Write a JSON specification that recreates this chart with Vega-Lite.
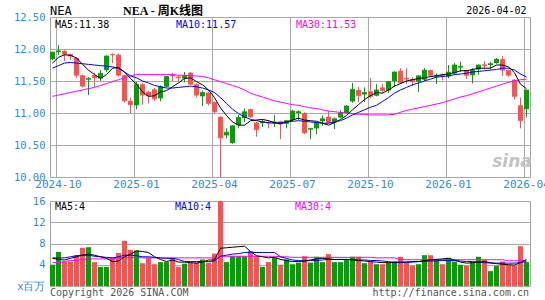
{
"$schema": "https://vega.github.io/schema/vega-lite/v6.json",
"autosize": {"type": "none"},
"padding": {"left": 50, "top": 17, "right": 495, "bottom": 283},
"background": "#ffffff",
"bounds": "flush",
"spacing": 24,
"config": {
  "font": "DejaVu Sans Mono",
  "view": {"stroke": "#a0a0a0", "strokeWidth": 1},
  "axis": {"ticks": false, "tickSize": 0, "domain": false, "labelFont": "DejaVu Sans Mono", "labelColor": "#2a8cdc", "gridColor": "#a8a8a8", "gridWidth": 1, "gridOpacity": 1, "labelOverlap": false, "labelBound": false, "labelFlush": false}
},
"datasets": {
"weekly": [
{"date":"2024-09-27","open":11.84,"high":11.96,"low":11.83,"close":11.95,"volume":4.0,"ma5":11.78,"ma10":11.70,"ma30":11.26,"vma5":5.2,"vma10":5.3,"vma30":4.4},
{"date":"2024-10-04","open":11.95,"high":12.06,"low":11.91,"close":11.97,"volume":6.4,"ma5":11.87,"ma10":11.74,"ma30":11.28,"vma5":5.0,"vma10":5.3,"vma30":4.4},
{"date":"2024-10-11","open":11.97,"high":11.98,"low":11.81,"close":11.92,"volume":4.6,"ma5":11.91,"ma10":11.78,"ma30":11.30,"vma5":4.9,"vma10":5.3,"vma30":4.6},
{"date":"2024-10-18","open":11.92,"high":11.93,"low":11.83,"close":11.89,"volume":4.6,"ma5":11.90,"ma10":11.79,"ma30":11.32,"vma5":5.2,"vma10":5.5,"vma30":4.8},
{"date":"2024-10-25","open":11.86,"high":11.87,"low":11.55,"close":11.59,"volume":5.8,"ma5":11.86,"ma10":11.78,"ma30":11.34,"vma5":5.5,"vma10":5.7,"vma30":4.8},
{"date":"2024-11-01","open":11.59,"high":11.60,"low":11.40,"close":11.42,"volume":7.2,"ma5":11.76,"ma10":11.77,"ma30":11.36,"vma5":5.8,"vma10":5.8,"vma30":5.0},
{"date":"2024-11-08","open":11.52,"high":11.56,"low":11.28,"close":11.54,"volume":7.3,"ma5":11.67,"ma10":11.76,"ma30":11.38,"vma5":6.0,"vma10":5.8,"vma30":5.1},
{"date":"2024-11-15","open":11.59,"high":11.63,"low":11.41,"close":11.55,"volume":4.5,"ma5":11.60,"ma10":11.75,"ma30":11.40,"vma5":5.8,"vma10":5.6,"vma30":5.1},
{"date":"2024-11-22","open":11.54,"high":11.67,"low":11.50,"close":11.62,"volume":3.6,"ma5":11.54,"ma10":11.74,"ma30":11.43,"vma5":5.5,"vma10":5.5,"vma30":5.1},
{"date":"2024-11-29","open":11.67,"high":11.90,"low":11.64,"close":11.89,"volume":3.6,"ma5":11.60,"ma10":11.73,"ma30":11.46,"vma5":5.2,"vma10":5.4,"vma30":5.1},
{"date":"2024-12-06","open":11.92,"high":11.93,"low":11.78,"close":11.91,"volume":5.3,"ma5":11.70,"ma10":11.72,"ma30":11.49,"vma5":4.6,"vma10":5.3,"vma30":5.1},
{"date":"2024-12-13","open":11.91,"high":11.93,"low":11.57,"close":11.59,"volume":6.2,"ma5":11.71,"ma10":11.70,"ma30":11.52,"vma5":4.7,"vma10":5.5,"vma30":5.3},
{"date":"2024-12-20","open":11.59,"high":11.60,"low":11.16,"close":11.19,"volume":8.5,"ma5":11.64,"ma10":11.64,"ma30":11.55,"vma5":5.5,"vma10":5.8,"vma30":5.4},
{"date":"2024-12-27","open":11.19,"high":11.24,"low":11.00,"close":11.13,"volume":6.8,"ma5":11.54,"ma10":11.58,"ma30":11.58,"vma5":6.0,"vma10":5.8,"vma30":5.4},
{"date":"2025-01-03","open":11.12,"high":11.49,"low":11.06,"close":11.45,"volume":6.7,"ma5":11.45,"ma10":11.55,"ma30":11.60,"vma5":6.6,"vma10":5.7,"vma30":5.4},
{"date":"2025-01-10","open":11.45,"high":11.47,"low":11.13,"close":11.28,"volume":4.3,"ma5":11.33,"ma10":11.50,"ma30":11.60,"vma5":6.5,"vma10":5.5,"vma30":5.3},
{"date":"2025-01-17","open":11.33,"high":11.35,"low":11.15,"close":11.27,"volume":5.3,"ma5":11.26,"ma10":11.47,"ma30":11.60,"vma5":6.3,"vma10":5.5,"vma30":5.3},
{"date":"2025-01-24","open":11.37,"high":11.39,"low":11.19,"close":11.22,"volume":4.1,"ma5":11.27,"ma10":11.43,"ma30":11.60,"vma5":5.5,"vma10":5.4,"vma30":5.3},
{"date":"2025-01-31","open":11.23,"high":11.43,"low":11.18,"close":11.41,"volume":4.5,"ma5":11.33,"ma10":11.41,"ma30":11.60,"vma5":5.0,"vma10":5.3,"vma30":5.3},
{"date":"2025-02-07","open":11.41,"high":11.58,"low":11.40,"close":11.57,"volume":4.5,"ma5":11.35,"ma10":11.39,"ma30":11.60,"vma5":4.6,"vma10":5.2,"vma30":5.3},
{"date":"2025-02-14","open":11.60,"high":11.63,"low":11.50,"close":11.58,"volume":5.3,"ma5":11.41,"ma10":11.39,"ma30":11.60,"vma5":4.9,"vma10":5.2,"vma30":5.3},
{"date":"2025-02-21","open":11.57,"high":11.59,"low":11.49,"close":11.55,"volume":3.6,"ma5":11.47,"ma10":11.40,"ma30":11.59,"vma5":4.5,"vma10":5.0,"vma30":5.3},
{"date":"2025-02-28","open":11.54,"high":11.64,"low":11.48,"close":11.58,"volume":4.2,"ma5":11.54,"ma10":11.41,"ma30":11.59,"vma5":4.5,"vma10":4.6,"vma30":5.3},
{"date":"2025-03-07","open":11.63,"high":11.64,"low":11.44,"close":11.45,"volume":4.4,"ma5":11.55,"ma10":11.42,"ma30":11.58,"vma5":4.4,"vma10":4.6,"vma30":5.3},
{"date":"2025-03-14","open":11.45,"high":11.46,"low":11.24,"close":11.28,"volume":4.4,"ma5":11.49,"ma10":11.41,"ma30":11.58,"vma5":4.3,"vma10":4.6,"vma30":5.3},
{"date":"2025-03-21","open":11.26,"high":11.35,"low":11.11,"close":11.32,"volume":5.0,"ma5":11.44,"ma10":11.39,"ma30":11.57,"vma5":4.5,"vma10":4.6,"vma30":5.3},
{"date":"2025-03-28","open":11.32,"high":11.33,"low":11.12,"close":11.15,"volume":4.4,"ma5":11.36,"ma10":11.36,"ma30":11.55,"vma5":4.9,"vma10":4.6,"vma30":5.3},
{"date":"2025-04-04","open":11.17,"high":11.18,"low":10.99,"close":11.02,"volume":6.1,"ma5":11.24,"ma10":11.32,"ma30":11.52,"vma5":4.9,"vma10":4.7,"vma30":5.3},
{"date":"2025-04-11","open":10.94,"high":10.95,"low":9.95,"close":10.61,"volume":16,"ma5":11.08,"ma10":11.24,"ma30":11.49,"vma5":7.1,"vma10":5.6,"vma30":5.6},
{"date":"2025-04-17","open":10.65,"high":10.76,"low":10.60,"close":10.70,"volume":4.5,"ma5":10.96,"ma10":11.15,"ma30":11.46,"vma5":7.2,"vma10":5.8,"vma30":5.6},
{"date":"2025-04-25","open":10.53,"high":10.81,"low":10.52,"close":10.80,"volume":5.6,"ma5":10.86,"ma10":11.06,"ma30":11.43,"vma5":7.3,"vma10":6.0,"vma30":5.6},
{"date":"2025-05-02","open":10.81,"high":10.97,"low":10.76,"close":10.93,"volume":5.6,"ma5":10.81,"ma10":10.99,"ma30":11.40,"vma5":7.4,"vma10":6.1,"vma30":5.6},
{"date":"2025-05-09","open":10.92,"high":11.07,"low":10.86,"close":11.02,"volume":5.6,"ma5":10.81,"ma10":10.94,"ma30":11.36,"vma5":7.5,"vma10":6.3,"vma30":5.6},
{"date":"2025-05-16","open":11.06,"high":11.07,"low":10.92,"close":10.94,"volume":6.6,"ma5":10.88,"ma10":10.90,"ma30":11.31,"vma5":6.5,"vma10":6.3,"vma30":5.6},
{"date":"2025-05-23","open":10.85,"high":10.86,"low":10.63,"close":10.74,"volume":5.6,"ma5":10.89,"ma10":10.88,"ma30":11.28,"vma5":5.7,"vma10":6.3,"vma30":5.6},
{"date":"2025-05-30","open":10.84,"high":10.89,"low":10.78,"close":10.87,"volume":3.6,"ma5":10.90,"ma10":10.86,"ma30":11.25,"vma5":5.5,"vma10":6.3,"vma30":5.6},
{"date":"2025-06-06","open":10.86,"high":10.89,"low":10.76,"close":10.84,"volume":4.5,"ma5":10.88,"ma10":10.85,"ma30":11.22,"vma5":5.3,"vma10":6.3,"vma30":5.6},
{"date":"2025-06-13","open":10.84,"high":10.97,"low":10.78,"close":10.86,"volume":5.3,"ma5":10.85,"ma10":10.84,"ma30":11.19,"vma5":5.4,"vma10":6.3,"vma30":5.6},
{"date":"2025-06-20","open":10.87,"high":10.88,"low":10.59,"close":10.83,"volume":4.0,"ma5":10.83,"ma10":10.85,"ma30":11.17,"vma5":5.0,"vma10":5.5,"vma30":5.5},
{"date":"2025-06-27","open":10.83,"high":10.89,"low":10.76,"close":10.88,"volume":5.0,"ma5":10.86,"ma10":10.86,"ma30":11.15,"vma5":4.8,"vma10":5.2,"vma30":5.5},
{"date":"2025-07-03","open":10.89,"high":11.05,"low":10.87,"close":11.03,"volume":4.1,"ma5":10.89,"ma10":10.87,"ma30":11.13,"vma5":4.6,"vma10":4.9,"vma30":5.4},
{"date":"2025-07-11","open":11.00,"high":11.04,"low":10.89,"close":11.02,"volume":4.4,"ma5":10.92,"ma10":10.88,"ma30":11.12,"vma5":4.6,"vma10":4.8,"vma30":5.4},
{"date":"2025-07-18","open":11.00,"high":11.01,"low":10.67,"close":10.69,"volume":5.6,"ma5":10.89,"ma10":10.87,"ma30":11.10,"vma5":4.7,"vma10":4.7,"vma30":5.4},
{"date":"2025-07-25","open":10.74,"high":10.76,"low":10.59,"close":10.76,"volume":4.4,"ma5":10.88,"ma10":10.86,"ma30":11.08,"vma5":4.9,"vma10":4.8,"vma30":5.4},
{"date":"2025-08-01","open":10.76,"high":10.86,"low":10.67,"close":10.84,"volume":5.5,"ma5":10.87,"ma10":10.85,"ma30":11.07,"vma5":5.1,"vma10":4.8,"vma30":5.4},
{"date":"2025-08-08","open":10.87,"high":10.96,"low":10.80,"close":10.91,"volume":4.5,"ma5":10.84,"ma10":10.84,"ma30":11.05,"vma5":5.2,"vma10":4.9,"vma30":5.4},
{"date":"2025-08-15","open":10.94,"high":11.03,"low":10.84,"close":10.85,"volume":6.0,"ma5":10.81,"ma10":10.84,"ma30":11.03,"vma5":5.1,"vma10":5.0,"vma30":5.4},
{"date":"2025-08-22","open":10.85,"high":10.93,"low":10.75,"close":10.91,"volume":4.5,"ma5":10.85,"ma10":10.86,"ma30":11.02,"vma5":5.0,"vma10":5.0,"vma30":5.4},
{"date":"2025-08-29","open":10.93,"high":11.04,"low":10.92,"close":11.00,"volume":4.5,"ma5":10.90,"ma10":10.88,"ma30":11.01,"vma5":5.0,"vma10":5.0,"vma30":5.4},
{"date":"2025-09-05","open":11.00,"high":11.12,"low":10.99,"close":11.11,"volume":5.1,"ma5":10.96,"ma10":10.92,"ma30":11.00,"vma5":5.0,"vma10":5.0,"vma30":5.4},
{"date":"2025-09-12","open":11.18,"high":11.47,"low":11.16,"close":11.37,"volume":5.5,"ma5":11.05,"ma10":10.97,"ma30":10.99,"vma5":4.9,"vma10":5.0,"vma30":5.4},
{"date":"2025-09-19","open":11.36,"high":11.41,"low":11.17,"close":11.27,"volume":5.5,"ma5":11.13,"ma10":11.01,"ma30":10.98,"vma5":4.8,"vma10":4.9,"vma30":5.4},
{"date":"2025-09-26","open":11.29,"high":11.40,"low":11.17,"close":11.32,"volume":4.3,"ma5":11.21,"ma10":11.05,"ma30":10.98,"vma5":4.7,"vma10":4.9,"vma30":5.4},
{"date":"2025-10-03","open":11.34,"high":11.55,"low":11.23,"close":11.26,"volume":4.6,"ma5":11.27,"ma10":11.09,"ma30":10.97,"vma5":4.6,"vma10":4.8,"vma30":5.4},
{"date":"2025-10-10","open":11.27,"high":11.45,"low":11.26,"close":11.36,"volume":4.1,"ma5":11.32,"ma10":11.12,"ma30":10.97,"vma5":4.5,"vma10":4.8,"vma30":5.3},
{"date":"2025-10-17","open":11.40,"high":11.45,"low":11.31,"close":11.35,"volume":4.1,"ma5":11.31,"ma10":11.18,"ma30":10.97,"vma5":4.4,"vma10":4.7,"vma30":5.3},
{"date":"2025-10-24","open":11.35,"high":11.50,"low":11.31,"close":11.49,"volume":4.4,"ma5":11.36,"ma10":11.24,"ma30":10.97,"vma5":4.4,"vma10":4.6,"vma30":5.3},
{"date":"2025-10-31","open":11.50,"high":11.65,"low":11.41,"close":11.64,"volume":4.6,"ma5":11.42,"ma10":11.31,"ma30":10.98,"vma5":4.5,"vma10":4.4,"vma30":5.3},
{"date":"2025-11-07","open":11.66,"high":11.70,"low":11.45,"close":11.47,"volume":5.5,"ma5":11.46,"ma10":11.36,"ma30":11.01,"vma5":4.5,"vma10":4.4,"vma30":4.95},
{"date":"2025-11-14","open":11.55,"high":11.70,"low":11.45,"close":11.53,"volume":4.5,"ma5":11.50,"ma10":11.40,"ma30":11.04,"vma5":4.5,"vma10":4.5,"vma30":4.95},
{"date":"2025-11-21","open":11.53,"high":11.56,"low":11.42,"close":11.49,"volume":3.8,"ma5":11.52,"ma10":11.44,"ma30":11.06,"vma5":4.6,"vma10":4.5,"vma30":4.95},
{"date":"2025-11-28","open":11.49,"high":11.59,"low":11.33,"close":11.58,"volume":4.1,"ma5":11.54,"ma10":11.47,"ma30":11.08,"vma5":4.6,"vma10":4.6,"vma30":4.95},
{"date":"2025-12-05","open":11.52,"high":11.70,"low":11.50,"close":11.67,"volume":5.8,"ma5":11.55,"ma10":11.50,"ma30":11.10,"vma5":4.8,"vma10":4.6,"vma30":4.95},
{"date":"2025-12-12","open":11.67,"high":11.68,"low":11.56,"close":11.59,"volume":5.8,"ma5":11.57,"ma10":11.53,"ma30":11.12,"vma5":4.9,"vma10":4.7,"vma30":4.95},
{"date":"2025-12-19","open":11.57,"high":11.62,"low":11.45,"close":11.59,"volume":5.1,"ma5":11.58,"ma10":11.56,"ma30":11.14,"vma5":5.0,"vma10":4.7,"vma30":4.95},
{"date":"2025-12-26","open":11.60,"high":11.62,"low":11.51,"close":11.58,"volume":4.1,"ma5":11.60,"ma10":11.57,"ma30":11.16,"vma5":5.1,"vma10":4.8,"vma30":4.95},
{"date":"2026-01-02","open":11.57,"high":11.75,"low":11.54,"close":11.64,"volume":5.3,"ma5":11.61,"ma10":11.58,"ma30":11.19,"vma5":5.2,"vma10":4.8,"vma30":4.95},
{"date":"2026-01-09","open":11.62,"high":11.78,"low":11.60,"close":11.75,"volume":4.6,"ma5":11.63,"ma10":11.60,"ma30":11.22,"vma5":4.9,"vma10":4.8,"vma30":4.95},
{"date":"2026-01-16","open":11.71,"high":11.80,"low":11.64,"close":11.73,"volume":4.0,"ma5":11.66,"ma10":11.61,"ma30":11.25,"vma5":4.5,"vma10":4.7,"vma30":4.95},
{"date":"2026-01-23","open":11.67,"high":11.68,"low":11.53,"close":11.59,"volume":3.8,"ma5":11.66,"ma10":11.62,"ma30":11.27,"vma5":4.3,"vma10":4.6,"vma30":4.95},
{"date":"2026-01-30","open":11.59,"high":11.70,"low":11.46,"close":11.67,"volume":4.5,"ma5":11.68,"ma10":11.64,"ma30":11.30,"vma5":4.4,"vma10":4.6,"vma30":4.95},
{"date":"2026-02-06","open":11.68,"high":11.76,"low":11.60,"close":11.75,"volume":5.5,"ma5":11.70,"ma10":11.65,"ma30":11.33,"vma5":4.5,"vma10":4.5,"vma30":4.95},
{"date":"2026-02-13","open":11.76,"high":11.81,"low":11.68,"close":11.74,"volume":4.9,"ma5":11.70,"ma10":11.66,"ma30":11.36,"vma5":4.6,"vma10":4.4,"vma30":4.95},
{"date":"2026-02-20","open":11.75,"high":11.80,"low":11.68,"close":11.77,"volume":2.8,"ma5":11.70,"ma10":11.67,"ma30":11.39,"vma5":4.4,"vma10":4.3,"vma30":4.95},
{"date":"2026-02-27","open":11.78,"high":11.86,"low":11.77,"close":11.84,"volume":3.8,"ma5":11.75,"ma10":11.68,"ma30":11.42,"vma5":4.2,"vma10":4.3,"vma30":4.95},
{"date":"2026-03-06","open":11.84,"high":11.89,"low":11.58,"close":11.67,"volume":4.6,"ma5":11.75,"ma10":11.70,"ma30":11.45,"vma5":4.1,"vma10":4.3,"vma30":4.95},
{"date":"2026-03-13","open":11.67,"high":11.68,"low":11.57,"close":11.59,"volume":4.0,"ma5":11.72,"ma10":11.70,"ma30":11.48,"vma5":4.0,"vma10":4.3,"vma30":4.75},
{"date":"2026-03-20","open":11.52,"high":11.53,"low":11.21,"close":11.26,"volume":3.8,"ma5":11.63,"ma10":11.67,"ma30":11.50,"vma5":3.95,"vma10":4.3,"vma30":4.75},
{"date":"2026-03-27","open":11.12,"high":11.24,"low":10.76,"close":10.88,"volume":7.5,"ma5":11.45,"ma10":11.61,"ma30":11.52,"vma5":4.4,"vma10":4.4,"vma30":4.75},
{"date":"2026-04-02","open":11.06,"high":11.35,"low":10.93,"close":11.36,"volume":4.5,"ma5":11.38,"ma10":11.56,"ma30":11.53,"vma5":5.0,"vma10":4.6,"vma30":4.75}
]
},
"vconcat": [
{
  "width": 480,
  "height": 160,
  "data": {"name": "weekly"},
  "encoding": {
    "x": {"field": "date", "type": "ordinal",
      "scale": {"paddingInner": 0.1667, "paddingOuter": 0, "align": 0, "round": true},
      "axis": {"values": ["2024-10-04","2025-01-03","2025-04-04","2025-07-03","2025-10-03","2026-01-02","2026-04-02"], "bandPosition": 0, "grid": true, "labelExpr": "slice(datum.value, 0, 7)", "labelAngle": 0, "labelAlign": "center", "labelBaseline": "top", "labelFontSize": 11, "labelPadding": 1, "title": null}}
  },
  "layer": [
    {"mark": {"type": "rule", "clip": true, "strokeWidth": 1},
     "encoding": {
       "y": {"field": "low", "type": "quantitative", "title": null,
         "scale": {"domain": [10, 12.5], "nice": false, "zero": false},
         "axis": {"values": [10, 10.5, 11, 11.5, 12, 12.5], "tickCount": 6, "format": ".2f", "grid": true, "labelOverlap": false, "labelFontSize": 10.5, "labelPadding": 5, "labelBaseline": "middle", "title": null}},
       "y2": {"field": "high"},
       "color": {"condition": {"test": "datum.close >= datum.open", "value": "#00a000"}, "value": "#ff5050"}}},
    {"mark": {"type": "bar", "clip": true},
     "encoding": {
       "y": {"field": "open", "type": "quantitative", "title": null,
         "axis": {"values": [10, 10.5, 11, 11.5, 12, 12.5], "tickCount": 6, "format": ".2f", "grid": true, "labelOverlap": false, "labelFontSize": 10.5, "labelPadding": 5, "labelBaseline": "middle", "title": null}},
       "y2": {"field": "close"},
       "color": {"condition": {"test": "datum.close >= datum.open", "value": "#00a000"}, "value": "#ff5050"}}},
    {"mark": {"type": "tick", "clip": true, "thickness": 1, "size": 5},
     "encoding": {
       "y": {"field": "close", "type": "quantitative", "title": null,
         "axis": {"values": [10, 10.5, 11, 11.5, 12, 12.5], "tickCount": 6, "format": ".2f", "grid": true, "labelOverlap": false, "labelFontSize": 10.5, "labelPadding": 5, "labelBaseline": "middle", "title": null}},
       "color": {"condition": {"test": "datum.close >= datum.open", "value": "#00a000"}, "value": "#ff5050"}}},
    {"mark": {"type": "line", "clip": true, "color": "#ff00ff", "strokeWidth": 1},
     "encoding": {"y": {"field": "ma30", "type": "quantitative", "title": null,
         "axis": {"values": [10, 10.5, 11, 11.5, 12, 12.5], "tickCount": 6, "format": ".2f", "grid": true, "labelOverlap": false, "labelFontSize": 10.5, "labelPadding": 5, "labelBaseline": "middle", "title": null}}}},
    {"mark": {"type": "line", "clip": true, "color": "#0000ff", "strokeWidth": 1},
     "encoding": {"y": {"field": "ma10", "type": "quantitative", "title": null,
         "axis": {"values": [10, 10.5, 11, 11.5, 12, 12.5], "tickCount": 6, "format": ".2f", "grid": true, "labelOverlap": false, "labelFontSize": 10.5, "labelPadding": 5, "labelBaseline": "middle", "title": null}}}},
    {"mark": {"type": "line", "clip": true, "color": "#000000", "strokeWidth": 1},
     "encoding": {"y": {"field": "ma5", "type": "quantitative", "title": null,
         "axis": {"values": [10, 10.5, 11, 11.5, 12, 12.5], "tickCount": 6, "format": ".2f", "grid": true, "labelOverlap": false, "labelFontSize": 10.5, "labelPadding": 5, "labelBaseline": "middle", "title": null}}}},
    {"data": {"values": [{}]},
     "mark": {"type": "text", "align": "left", "baseline": "middle", "dx": -3.5, "fontSize": 10, "color": "#000000"},
     "encoding": {"x": {"datum": "2024-10-04", "type": "ordinal"}, "y": {"datum": 12.375, "type": "quantitative",
         "axis": {"values": [10, 10.5, 11, 11.5, 12, 12.5], "tickCount": 6, "format": ".2f", "grid": true, "labelOverlap": false, "labelFontSize": 10.5, "labelPadding": 5, "labelBaseline": "middle", "title": null}}, "text": {"value": "MA5:11.38"}}},
    {"data": {"values": [{}]},
     "mark": {"type": "text", "align": "left", "baseline": "middle", "dx": -2.5, "fontSize": 10, "color": "#0000ff"},
     "encoding": {"x": {"datum": "2025-02-21", "type": "ordinal"}, "y": {"datum": 12.375, "type": "quantitative",
         "axis": {"values": [10, 10.5, 11, 11.5, 12, 12.5], "tickCount": 6, "format": ".2f", "grid": true, "labelOverlap": false, "labelFontSize": 10.5, "labelPadding": 5, "labelBaseline": "middle", "title": null}}, "text": {"value": "MA10:11.57"}}},
    {"data": {"values": [{}]},
     "mark": {"type": "text", "align": "left", "baseline": "middle", "dx": -2.5, "fontSize": 10, "color": "#ff00ff"},
     "encoding": {"x": {"datum": "2025-07-11", "type": "ordinal"}, "y": {"datum": 12.375, "type": "quantitative",
         "axis": {"values": [10, 10.5, 11, 11.5, 12, 12.5], "tickCount": 6, "format": ".2f", "grid": true, "labelOverlap": false, "labelFontSize": 10.5, "labelPadding": 5, "labelBaseline": "middle", "title": null}}, "text": {"value": "MA30:11.53"}}},
    {"data": {"values": [{}]},
     "mark": {"type": "text", "align": "left", "baseline": "middle", "dx": -2.5, "fontSize": 12, "color": "#000000"},
     "encoding": {"x": {"datum": "2024-09-27", "type": "ordinal"}, "y": {"datum": 12.594, "type": "quantitative",
         "axis": {"values": [10, 10.5, 11, 11.5, 12, 12.5], "tickCount": 6, "format": ".2f", "grid": true, "labelOverlap": false, "labelFontSize": 10.5, "labelPadding": 5, "labelBaseline": "middle", "title": null}}, "text": {"value": "NEA"}}},
    {"data": {"values": [{}]},
     "mark": {"type": "text", "align": "center", "baseline": "middle", "dx": 2.5, "fontSize": 12, "font": "Liberation Serif, Noto Sans CJK SC", "fontWeight": "bold", "color": "#000000"},
     "encoding": {"x": {"datum": "2025-01-31", "type": "ordinal"}, "y": {"datum": 12.594, "type": "quantitative",
         "axis": {"values": [10, 10.5, 11, 11.5, 12, 12.5], "tickCount": 6, "format": ".2f", "grid": true, "labelOverlap": false, "labelFontSize": 10.5, "labelPadding": 5, "labelBaseline": "middle", "title": null}}, "text": {"value": "NEA - 周K线图"}}},
    {"data": {"values": [{}]},
     "mark": {"type": "text", "align": "right", "baseline": "middle", "dx": 0, "fontSize": 10, "color": "#000000"},
     "encoding": {"x": {"datum": "2026-04-02", "type": "ordinal"}, "y": {"datum": 12.594, "type": "quantitative",
         "axis": {"values": [10, 10.5, 11, 11.5, 12, 12.5], "tickCount": 6, "format": ".2f", "grid": true, "labelOverlap": false, "labelFontSize": 10.5, "labelPadding": 5, "labelBaseline": "middle", "title": null}}, "text": {"value": "2026-04-02"}}},
    {"data": {"values": [{}]},
     "mark": {"type": "text", "align": "center", "baseline": "middle", "dx": -2.5, "fontSize": 17, "font": "DejaVu Sans", "fontWeight": "bold", "fontStyle": "italic", "color": "#c4c4c4"},
     "encoding": {"x": {"datum": "2026-03-20", "type": "ordinal"}, "y": {"datum": 10.23, "type": "quantitative",
         "axis": {"values": [10, 10.5, 11, 11.5, 12, 12.5], "tickCount": 6, "format": ".2f", "grid": true, "labelOverlap": false, "labelFontSize": 10.5, "labelPadding": 5, "labelBaseline": "middle", "title": null}}, "text": {"value": "sina"}}}
  ]
},
{
  "width": 480,
  "height": 85,
  "data": {"name": "weekly"},
  "encoding": {
    "x": {"field": "date", "type": "ordinal",
      "scale": {"paddingInner": 0.1667, "paddingOuter": 0, "align": 0, "round": true},
      "axis": null}
  },
  "layer": [
    {"mark": {"type": "bar", "clip": true},
     "encoding": {
       "y": {"field": "volume", "type": "quantitative", "title": null,
         "scale": {"domain": [0, 16], "nice": false},
         "axis": {"values": [0, 4, 8, 12, 16], "tickCount": 5, "grid": true, "labelOverlap": false, "labelFontSize": 10.5, "labelPadding": 5, "labelBaseline": "middle", "labelExpr": "datum.value == 0 ? 'x百万' : datum.label", "title": null}},
       "color": {"condition": {"test": "datum.close >= datum.open", "value": "#00a000"}, "value": "#ff5050"}}},
    {"mark": {"type": "line", "clip": true, "color": "#ff00ff", "strokeWidth": 1},
     "encoding": {"y": {"field": "vma30", "type": "quantitative", "title": null,
         "axis": {"values": [0, 4, 8, 12, 16], "tickCount": 5, "grid": true, "labelOverlap": false, "labelFontSize": 10.5, "labelPadding": 5, "labelBaseline": "middle", "labelExpr": "datum.value == 0 ? 'x百万' : datum.label", "title": null}}}},
    {"mark": {"type": "line", "clip": true, "color": "#0000ff", "strokeWidth": 1},
     "encoding": {"y": {"field": "vma10", "type": "quantitative", "title": null,
         "axis": {"values": [0, 4, 8, 12, 16], "tickCount": 5, "grid": true, "labelOverlap": false, "labelFontSize": 10.5, "labelPadding": 5, "labelBaseline": "middle", "labelExpr": "datum.value == 0 ? 'x百万' : datum.label", "title": null}}}},
    {"mark": {"type": "line", "clip": true, "color": "#000000", "strokeWidth": 1},
     "encoding": {"y": {"field": "vma5", "type": "quantitative", "title": null,
         "axis": {"values": [0, 4, 8, 12, 16], "tickCount": 5, "grid": true, "labelOverlap": false, "labelFontSize": 10.5, "labelPadding": 5, "labelBaseline": "middle", "labelExpr": "datum.value == 0 ? 'x百万' : datum.label", "title": null}}}},
    {"data": {"values": [{}]},
     "mark": {"type": "text", "align": "left", "baseline": "middle", "dx": -3.5, "fontSize": 10, "color": "#000000"},
     "encoding": {"x": {"datum": "2024-10-04", "type": "ordinal"}, "y": {"datum": 14.9, "type": "quantitative",
         "axis": {"values": [0, 4, 8, 12, 16], "tickCount": 5, "grid": true, "labelOverlap": false, "labelFontSize": 10.5, "labelPadding": 5, "labelBaseline": "middle", "labelExpr": "datum.value == 0 ? 'x百万' : datum.label", "title": null}}, "text": {"value": "MA5:4"}}},
    {"data": {"values": [{}]},
     "mark": {"type": "text", "align": "left", "baseline": "middle", "dx": -3.5, "fontSize": 10, "color": "#0000ff"},
     "encoding": {"x": {"datum": "2025-02-21", "type": "ordinal"}, "y": {"datum": 14.9, "type": "quantitative",
         "axis": {"values": [0, 4, 8, 12, 16], "tickCount": 5, "grid": true, "labelOverlap": false, "labelFontSize": 10.5, "labelPadding": 5, "labelBaseline": "middle", "labelExpr": "datum.value == 0 ? 'x百万' : datum.label", "title": null}}, "text": {"value": "MA10:4"}}},
    {"data": {"values": [{}]},
     "mark": {"type": "text", "align": "left", "baseline": "middle", "dx": -3.5, "fontSize": 10, "color": "#ff00ff"},
     "encoding": {"x": {"datum": "2025-07-11", "type": "ordinal"}, "y": {"datum": 14.9, "type": "quantitative",
         "axis": {"values": [0, 4, 8, 12, 16], "tickCount": 5, "grid": true, "labelOverlap": false, "labelFontSize": 10.5, "labelPadding": 5, "labelBaseline": "middle", "labelExpr": "datum.value == 0 ? 'x百万' : datum.label", "title": null}}, "text": {"value": "MA30:4"}}},
    {"data": {"values": [{}]},
     "mark": {"type": "text", "align": "left", "baseline": "middle", "dx": -2.5, "fontSize": 10, "color": "#555555"},
     "encoding": {"x": {"datum": "2024-09-27", "type": "ordinal"}, "y": {"datum": -1.32, "type": "quantitative",
         "axis": {"values": [0, 4, 8, 12, 16], "tickCount": 5, "grid": true, "labelOverlap": false, "labelFontSize": 10.5, "labelPadding": 5, "labelBaseline": "middle", "labelExpr": "datum.value == 0 ? 'x百万' : datum.label", "title": null}}, "text": {"value": "Copyright 2026 SINA.COM"}}},
    {"data": {"values": [{}]},
     "mark": {"type": "text", "align": "right", "baseline": "middle", "dx": 2.5, "fontSize": 10, "color": "#555555"},
     "encoding": {"x": {"datum": "2026-04-02", "type": "ordinal"}, "y": {"datum": -1.32, "type": "quantitative",
         "axis": {"values": [0, 4, 8, 12, 16], "tickCount": 5, "grid": true, "labelOverlap": false, "labelFontSize": 10.5, "labelPadding": 5, "labelBaseline": "middle", "labelExpr": "datum.value == 0 ? 'x百万' : datum.label", "title": null}}, "text": {"value": "http://finance.sina.com.cn"}}}
  ]
}
]
}
